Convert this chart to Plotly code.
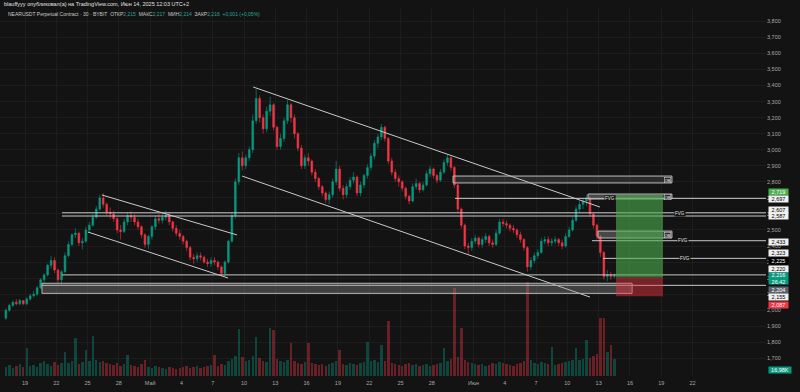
import plotly.graph_objects as go
import pandas as pd

# ---------------- data ----------------
CANDLE_START = "2025-04-17 00:00"
CANDLE_FREQ = "8h"
OPEN0 = 1.95
CLOSE = [2.00, 2.03, 2.05, 2.04, 2.06, 2.04, 2.07, 2.09, 2.10, 2.14,
         2.19, 2.22, 2.28, 2.31, 2.25, 2.19, 2.24, 2.34, 2.41, 2.47,
         2.48, 2.42, 2.43, 2.50, 2.53, 2.58, 2.63, 2.70, 2.66, 2.61,
         2.60, 2.57, 2.50, 2.49, 2.55, 2.59, 2.58, 2.55, 2.52, 2.47,
         2.41, 2.46, 2.52, 2.57, 2.56, 2.58, 2.59, 2.55, 2.51, 2.48,
         2.46, 2.43, 2.39, 2.33, 2.32, 2.34, 2.33, 2.30, 2.29, 2.31,
         2.30, 2.27, 2.23, 2.30, 2.43, 2.59, 2.80, 2.95, 2.90, 2.95,
         3.00, 3.18, 3.32, 3.20, 3.13, 3.24, 3.28, 3.14, 3.02, 3.07,
         3.18, 3.28, 3.20, 3.10, 3.01, 2.90, 2.95, 2.93, 2.86, 2.82,
         2.77, 2.73, 2.69, 2.72, 2.80, 2.88, 2.76, 2.72, 2.77, 2.81,
         2.83, 2.73, 2.78, 2.84, 2.89, 2.96, 3.04, 3.08, 3.14, 3.07,
         2.93, 2.86, 2.82, 2.80, 2.76, 2.71, 2.68, 2.77, 2.79, 2.75,
         2.78, 2.85, 2.88, 2.84, 2.81, 2.86, 2.92, 2.95, 2.89, 2.78,
         2.63, 2.53, 2.40, 2.39, 2.43, 2.45, 2.41, 2.44, 2.46, 2.42,
         2.41, 2.48, 2.55, 2.54, 2.53, 2.51, 2.50, 2.47, 2.44, 2.39,
         2.27, 2.31, 2.34, 2.36, 2.43, 2.44, 2.42, 2.43, 2.44, 2.42,
         2.40, 2.46, 2.50, 2.56, 2.63, 2.66, 2.68, 2.70, 2.60, 2.53,
         2.46, 2.36, 2.21, 2.22, 2.21, 2.216]
HIGH = [2.01, 2.04, 2.06, 2.07, 2.07, 2.06, 2.08, 2.10, 2.12, 2.15,
        2.20, 2.23, 2.29, 2.34, 2.33, 2.26, 2.25, 2.36, 2.43, 2.48,
        2.51, 2.49, 2.45, 2.52, 2.55, 2.60, 2.65, 2.72, 2.73, 2.67,
        2.64, 2.62, 2.58, 2.53, 2.57, 2.61, 2.62, 2.60, 2.57, 2.53,
        2.48, 2.47, 2.53, 2.59, 2.60, 2.60, 2.62, 2.61, 2.56, 2.53,
        2.50, 2.47, 2.44, 2.40, 2.35, 2.36, 2.36, 2.34, 2.32, 2.33,
        2.33, 2.31, 2.28, 2.31, 2.44, 2.61, 2.82, 2.98, 2.99, 2.97,
        3.02, 3.22, 3.38, 3.34, 3.22, 3.27, 3.33, 3.29, 3.15, 3.10,
        3.20, 3.31, 3.29, 3.22, 3.11, 3.03, 2.97, 2.98, 2.94, 2.88,
        2.83, 2.78, 2.74, 2.74, 2.82, 2.93, 2.90, 2.78, 2.79, 2.83,
        2.86, 2.84, 2.80, 2.85, 2.91, 2.98, 3.06, 3.10, 3.16, 3.15,
        3.08, 2.95, 2.88, 2.84, 2.81, 2.77, 2.72, 2.79, 2.82, 2.80,
        2.80, 2.87, 2.90, 2.89, 2.85, 2.88, 2.94, 2.97, 2.96, 2.90,
        2.79, 2.64, 2.54, 2.42, 2.45, 2.47, 2.46, 2.46, 2.48, 2.47,
        2.44, 2.50, 2.57, 2.57, 2.56, 2.54, 2.53, 2.51, 2.49, 2.45,
        2.40, 2.33, 2.36, 2.38, 2.45, 2.46, 2.46, 2.45, 2.46, 2.45,
        2.44, 2.48, 2.52, 2.58, 2.65, 2.68, 2.70, 2.72, 2.71, 2.61,
        2.54, 2.47, 2.37, 2.25, 2.24, 2.23]
LOW = [1.94, 1.99, 2.02, 2.03, 2.03, 2.03, 2.03, 2.06, 2.08, 2.09,
       2.13, 2.16, 2.21, 2.26, 2.23, 2.17, 2.16, 2.23, 2.33, 2.40,
       2.45, 2.40, 2.38, 2.42, 2.48, 2.52, 2.57, 2.62, 2.64, 2.59,
       2.57, 2.55, 2.48, 2.44, 2.48, 2.53, 2.55, 2.53, 2.50, 2.45,
       2.39, 2.38, 2.44, 2.50, 2.54, 2.54, 2.56, 2.53, 2.49, 2.46,
       2.44, 2.41, 2.37, 2.31, 2.29, 2.30, 2.31, 2.29, 2.27, 2.27,
       2.28, 2.25, 2.21, 2.21, 2.29, 2.42, 2.57, 2.78, 2.87, 2.88,
       2.93, 2.98, 3.16, 3.17, 3.10, 3.11, 3.21, 3.12, 3.00, 3.00,
       3.05, 3.16, 3.17, 3.07, 2.99, 2.88, 2.88, 2.90, 2.84, 2.80,
       2.75, 2.71, 2.67, 2.66, 2.70, 2.78, 2.74, 2.69, 2.70, 2.75,
       2.79, 2.71, 2.71, 2.76, 2.82, 2.87, 2.94, 3.01, 3.06, 3.05,
       2.91, 2.84, 2.80, 2.77, 2.74, 2.69, 2.66, 2.67, 2.75, 2.73,
       2.74, 2.77, 2.83, 2.82, 2.79, 2.80, 2.85, 2.90, 2.87, 2.76,
       2.61, 2.51, 2.38, 2.35, 2.37, 2.41, 2.39, 2.39, 2.42, 2.40,
       2.39, 2.40, 2.47, 2.52, 2.51, 2.49, 2.48, 2.45, 2.42, 2.37,
       2.24, 2.25, 2.29, 2.32, 2.35, 2.41, 2.40, 2.40, 2.41, 2.40,
       2.38, 2.39, 2.45, 2.49, 2.55, 2.61, 2.63, 2.65, 2.58, 2.51,
       2.44, 2.33, 2.19, 2.18, 2.19, 2.20]
VOLUME_K = [180, 220, 160, 200, 240, 180, 560, 200, 220, 180,
            260, 300, 240, 200, 280, 220, 260, 480, 260, 300,
            760, 240, 280, 520, 300, 800, 320, 280, 300, 260,
            240, 220, 260, 200, 240, 420, 220, 200, 180, 240,
            320, 180, 160, 200, 180, 160, 140, 180, 160, 140,
            160, 180, 200, 160, 180, 200, 160, 180, 200, 220,
            420, 200, 240, 220, 300, 340, 400, 940, 380, 300,
            320, 400, 780, 360, 300, 280, 960, 920, 340, 300,
            280, 320, 660, 300, 260, 240, 280, 660, 260, 240,
            220, 240, 200, 240, 260, 300, 520, 240, 220, 260,
            240, 220, 260, 280, 680, 300, 320, 280, 620, 300,
            1100, 260, 240, 220, 200, 240, 260, 220, 240, 200,
            220, 240, 200, 220, 240, 260, 560, 300, 340, 1760,
            380, 960, 320, 280, 260, 240, 220, 240, 200, 220,
            260, 240, 280, 260, 240, 220, 200, 240, 260, 300,
            1880, 320, 260, 240, 280, 260, 240, 580, 220, 240,
            260, 280, 300, 320, 560, 320, 340, 720, 360, 400,
            440, 1160, 1160, 480, 620, 340]

X_TICK_DATES = ["2025-04-19", "2025-04-22", "2025-04-25", "2025-04-28", "2025-05-01",
                "2025-05-04", "2025-05-07", "2025-05-10", "2025-05-13", "2025-05-16",
                "2025-05-19", "2025-05-22", "2025-05-25", "2025-05-28", "2025-06-01",
                "2025-06-04", "2025-06-07", "2025-06-10", "2025-06-13", "2025-06-16",
                "2025-06-19", "2025-06-22"]
X_TICK_TEXT = ["19", "22", "25", "28", "Май", "4", "7", "10", "13", "16", "19", "22",
               "25", "28", "Июн", "4", "7", "10", "13", "16", "19", "22"]
Y_TICKS = [1.7, 1.8, 1.9, 2.0, 2.1, 2.2, 2.3, 2.4, 2.5, 2.6, 2.7, 2.8, 2.9,
           3.0, 3.1, 3.2, 3.3, 3.4, 3.5, 3.6, 3.7, 3.8]

# drawings (date, price)
CHANNEL_LINES = [
    (("2025-04-26 09:00", 2.718), ("2025-05-09 08:00", 2.469)),
    (("2025-04-25 01:00", 2.487), ("2025-05-08 11:00", 2.201)),
    (("2025-05-10 21:00", 3.391), ("2025-06-13 03:00", 2.643)),
    (("2025-05-09 19:30", 2.836), ("2025-06-12 04:00", 2.082)),
]
# horizontal rays: start date, price
RAYS = [("2025-05-30 05:30", 2.697), ("2025-04-22 13:00", 2.607), ("2025-04-22 13:00", 2.587),
        ("2025-06-12 08:40", 2.433), ("2025-06-13 10:00", 2.323), ("2025-04-22 13:00", 2.220),
        ("2025-04-20 15:00", 2.155)]
# boxes: start, end, top, bottom, fill alpha
OB_BOXES = [("2025-05-30 01:00", "2025-06-20 00:40", 2.836, 2.793, 0.18),
            ("2025-06-11 23:30", "2025-06-20 00:40", 2.724, 2.693, 0.40),
            ("2025-06-12 22:30", "2025-06-20 00:40", 2.493, 2.450, 0.40)]
OB_LABEL_DATE = "2025-06-19 15:30"
FVG_LABELS = [("2025-06-14 02:00", 2.697), ("2025-06-20 19:00", 2.600),
              ("2025-06-21 02:00", 2.433), ("2025-06-21 07:00", 2.323)]
ZONE_BOX = ("2025-04-20 15:00", "2025-06-16 05:00", 2.168, 2.105)
POSITION = dict(start="2025-06-14 15:50", end="2025-06-19 04:00",
                entry=2.204, target=2.719, stop=2.087)

# right-axis labels: price, text, bg, fg, yshift(px)
PRICE_LABELS = [(2.719, "2,719", "#4caf50", "#ffffff", 3),
                (2.697, "2,697", "#f0f0f0", "#000000", -1),
                (2.607, "2,607", "#f0f0f0", "#000000", 3),
                (2.587, "2,587", "#f0f0f0", "#000000", 0),
                (2.433, "2,433", "#f0f0f0", "#000000", -1),
                (2.323, "2,323", "#f0f0f0", "#000000", 5),
                (2.225, "2,225", "#000000", "#ffffff", 13),
                (2.220, "2,220", "#f0f0f0", "#000000", 6),
                (2.204, "2,204", "#5d606b", "#ffffff", -12.5),
                (2.155, "2,155", "#f0f0f0", "#000000", -11.7),
                (2.087, "2,087", "#f23645", "#ffffff", -8.3)]
LAST_PRICE = (2.216, "2,216", "26:42")
LAST_VOLUME = "16,98K"

X_RANGE = ["2025-04-16 14:28", "2025-06-29 01:05"]
Y_RANGE = [1.590, 3.877]
VOL_RANGE = [0, 7340]

# ---------------- build ----------------
FONT = "Liberation Sans"
BG = "#131313"
UP, DOWN = "#089981", "#f23645"

times = pd.date_range(CANDLE_START, periods=len(CLOSE), freq=CANDLE_FREQ)
centers = times + pd.Timedelta(hours=4)
opens = [OPEN0] + CLOSE[:-1]
highs = [max(h, o, c) for h, o, c in zip(HIGH, opens, CLOSE)]
lows = [min(l, o, c) for l, o, c in zip(LOW, opens, CLOSE)]
vol_colors = ["rgba(8,153,129,0.38)" if c >= o else "rgba(242,54,69,0.38)"
              for o, c in zip(opens, CLOSE)]

fig = go.Figure()
fig.add_trace(go.Bar(x=centers, y=VOLUME_K, marker=dict(color=vol_colors, line=dict(width=0)),
                     width=8 * 3600 * 1000 * 0.7, yaxis="y2", hoverinfo="skip"))
fig.add_trace(go.Candlestick(x=centers, open=opens, high=highs, low=lows, close=CLOSE,
                             increasing=dict(line=dict(color=UP, width=0.6), fillcolor=UP),
                             decreasing=dict(line=dict(color=DOWN, width=0.6), fillcolor=DOWN),
                             whiskerwidth=0, yaxis="y", hoverinfo="skip"))

LINE_COL = "#c9c9c9"
for (d0, p0), (d1, p1) in CHANNEL_LINES:
    fig.add_shape(type="line", xref="x", yref="y", x0=d0, y0=p0, x1=d1, y1=p1,
                  line=dict(color=LINE_COL, width=1))
for d0, p in RAYS:
    fig.add_shape(type="line", xref="x", yref="y", x0=d0, y0=p, x1=X_RANGE[1], y1=p,
                  line=dict(color=LINE_COL, width=1))
z0, z1, zt, zb = ZONE_BOX
fig.add_shape(type="rect", xref="x", yref="y", x0=z0, x1=z1, y0=zb, y1=zt,
              fillcolor="rgba(150,150,150,0.35)", line=dict(color="#b5b5b5", width=1))
for d0, d1, top, bot, a in OB_BOXES:
    fig.add_shape(type="rect", xref="x", yref="y", x0=d0, x1=d1, y0=bot, y1=top,
                  fillcolor=f"rgba(150,150,150,{a})", line=dict(color="#bdbdbd", width=1))
    fig.add_annotation(x=OB_LABEL_DATE, y=(top + bot) / 2, xref="x", yref="y", text="OB",
                       showarrow=False, font=dict(size=4, color="#ffffff", family=FONT),
                       bordercolor="#dddddd", borderwidth=0.5, borderpad=0, bgcolor="#2a2a2a")
fig.add_shape(type="rect", xref="x", yref="y", x0=POSITION["start"], x1=POSITION["end"],
              y0=POSITION["entry"], y1=POSITION["target"],
              fillcolor="rgba(76,175,80,0.6)", line=dict(width=0))
fig.add_shape(type="rect", xref="x", yref="y", x0=POSITION["start"], x1=POSITION["end"],
              y0=POSITION["stop"], y1=POSITION["entry"],
              fillcolor="rgba(242,54,69,0.45)", line=dict(width=0))
for d, p in FVG_LABELS:
    fig.add_annotation(x=d, y=p, xref="x", yref="y", text="FVG", showarrow=False,
                       font=dict(size=4.5, color="#e6e6e6", family=FONT),
                       bgcolor=BG, borderpad=0)

# right axis labels
for p, txt, bg, fg, ys in PRICE_LABELS:
    fig.add_annotation(xref="paper", x=1, xanchor="left", xshift=2, yref="y", y=p, yshift=ys,
                       text=txt, showarrow=False, bgcolor=bg, width=19, height=6, borderpad=0,
                       font=dict(size=5.5, color=fg, family=FONT))
fig.add_annotation(xref="paper", x=1, xanchor="left", xshift=2, yref="y", y=LAST_PRICE[0],
                   yshift=-3, text=f"{LAST_PRICE[1]}<br>{LAST_PRICE[2]}", showarrow=False,
                   bgcolor="#089981", width=19, height=11, borderpad=0,
                   font=dict(size=5.5, color="#ffffff", family=FONT))
fig.add_annotation(xref="paper", x=1, xanchor="left", xshift=2, yref="paper", y=0.005,
                   text=LAST_VOLUME, showarrow=False, bgcolor="#089981", width=22, height=6,
                   borderpad=0, font=dict(size=5.5, color="#ffffff", family=FONT))

# header
fig.add_annotation(xref="paper", yref="paper", x=0, y=1, xshift=2, yshift=5, xanchor="left",
                   yanchor="middle", showarrow=False,
                   text="blauffyyy опубликовал(а) на TradingView.com, Июн 14, 2025 12:03 UTC+2",
                   font=dict(size=5.5, color="#e0e0e0", family=FONT))
G = "#26a69a"
hdr = ("NEARUSDT Perpetual Contract · 30 · BYBIT&nbsp;&nbsp;"
       f"ОТКР<span style='color:{G}'>2,215</span>&nbsp;&nbsp;"
       f"МАКС<span style='color:{G}'>2,217</span>&nbsp;&nbsp;"
       f"МИН<span style='color:{G}'>2,214</span>&nbsp;&nbsp;"
       f"ЗАКР<span style='color:{G}'>2,216</span>&nbsp;&nbsp;"
       f"<span style='color:{G}'>+0,001 (+0,05%)</span>")
fig.add_annotation(xref="paper", yref="paper", x=0, y=1, xshift=6, yshift=-5, xanchor="left",
                   yanchor="middle", showarrow=False, text=hdr,
                   font=dict(size=5, color="#c8c8c8", family=FONT))

fig.update_layout(
    width=800, height=392, margin=dict(l=0, r=34, t=9, b=16, autoexpand=False),
    paper_bgcolor=BG, plot_bgcolor=BG, showlegend=False, hovermode=False,
    xaxis=dict(type="date", range=X_RANGE, rangeslider=dict(visible=False),
               tickvals=X_TICK_DATES, ticktext=X_TICK_TEXT, showgrid=True,
               gridcolor="#1d1d1d", gridwidth=1, zeroline=False, ticks="",
               tickfont=dict(size=5.5, color="#a8a8a8", family=FONT), showline=False,
               automargin=False, ticklabelstandoff=2),
    yaxis=dict(range=Y_RANGE, side="right", tickvals=Y_TICKS,
               ticktext=[f"{v:.3f}".replace(".", ",") for v in Y_TICKS],
               showgrid=True, gridcolor="#1d1d1d", zeroline=False, ticks="",
               tickfont=dict(size=5.5, color="#a8a8a8", family=FONT), showline=False,
               automargin=False),
    yaxis2=dict(range=VOL_RANGE, overlaying="y", visible=False),
    bargap=0,
)
fig.write_html("out.html", config={"displayModeBar": False},
               post_script="document.body.style.margin='0';document.body.style.background='#131313';")
